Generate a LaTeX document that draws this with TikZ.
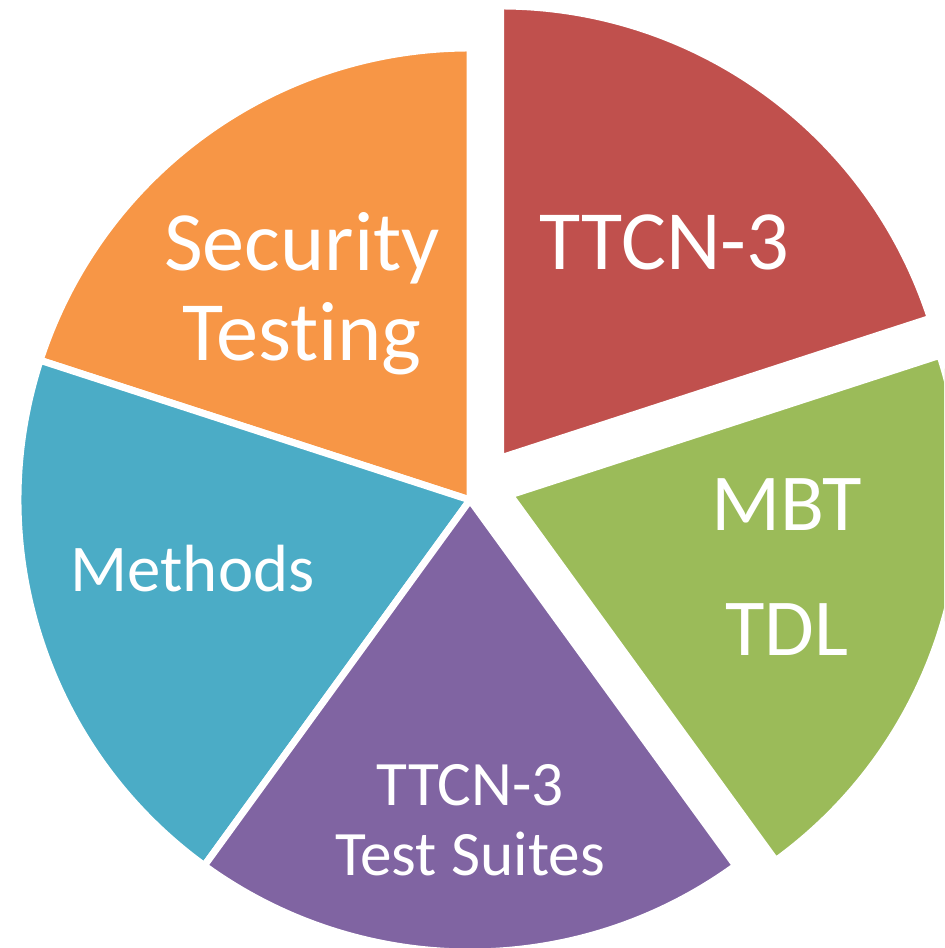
\documentclass[tikz,border=0pt]{standalone}
\usepackage{xcolor}
\usepackage{fontspec}
\setmainfont{Carlito}[Ligatures={NoCommon}]
\usepackage{tikz}

\definecolor{ttcnred}{HTML}{C0504D}
\definecolor{mbtgreen}{HTML}{9BBB59}
\definecolor{suitepurple}{HTML}{8064A2}
\definecolor{methodblue}{HTML}{4BACC6}
\definecolor{securityorange}{HTML}{F79646}

\begin{document}
\begin{tikzpicture}
    \useasboundingbox (0, 0) rectangle (9.44, 9.48);
    \fill[white] (0, 0) rectangle (9.44, 9.48);
    \clip (0, 0) rectangle (9.44, 9.48);

    % pie, red and green pulled out
    \filldraw[fill=securityorange, draw=white, line width=0.07cm] (4.70, 4.48) -- ++(90:4.52) arc[start angle=90, end angle=162, radius=4.52] -- cycle;
    \filldraw[fill=methodblue, draw=white, line width=0.07cm] (4.70, 4.48) -- ++(162:4.52) arc[start angle=162, end angle=234, radius=4.52] -- cycle;
    \filldraw[fill=suitepurple, draw=white, line width=0.07cm] (4.70, 4.48) -- ++(234:4.52) arc[start angle=234, end angle=306, radius=4.52] -- cycle;
    \filldraw[fill=ttcnred, draw=white, line width=0.07cm] (5.005, 4.90) -- ++(18:4.52) arc[start angle=18, end angle=90, radius=4.52] -- cycle;
    \filldraw[fill=mbtgreen, draw=white, line width=0.07cm] (5.10, 4.53) -- ++(-54:4.52) arc[start angle=-54, end angle=18, radius=4.52] -- cycle;

    \node[white, align=center, font=\fontsize{24}{26}\selectfont] at (6.645, 7.055) (ttcn) {TTCN-3};
    \node[white, align=center, font=\fontsize{24}{25.6}\selectfont] at (3.02, 6.545) (security) {Security\\Testing};
    \node[white, align=center, font=\fontsize{23}{35.6}\selectfont] at (7.87, 3.805) (mbt) {MBT\\TDL};
    \node[white, align=center, font=\fontsize{19}{22}\selectfont] at (1.925, 3.795) (methods) {Methods};
    \node[white, align=center, font=\fontsize{18}{19.9}\selectfont] at (4.70, 1.28) (suites) {TTCN-3\\Test Suites};
\end{tikzpicture}
\end{document}
